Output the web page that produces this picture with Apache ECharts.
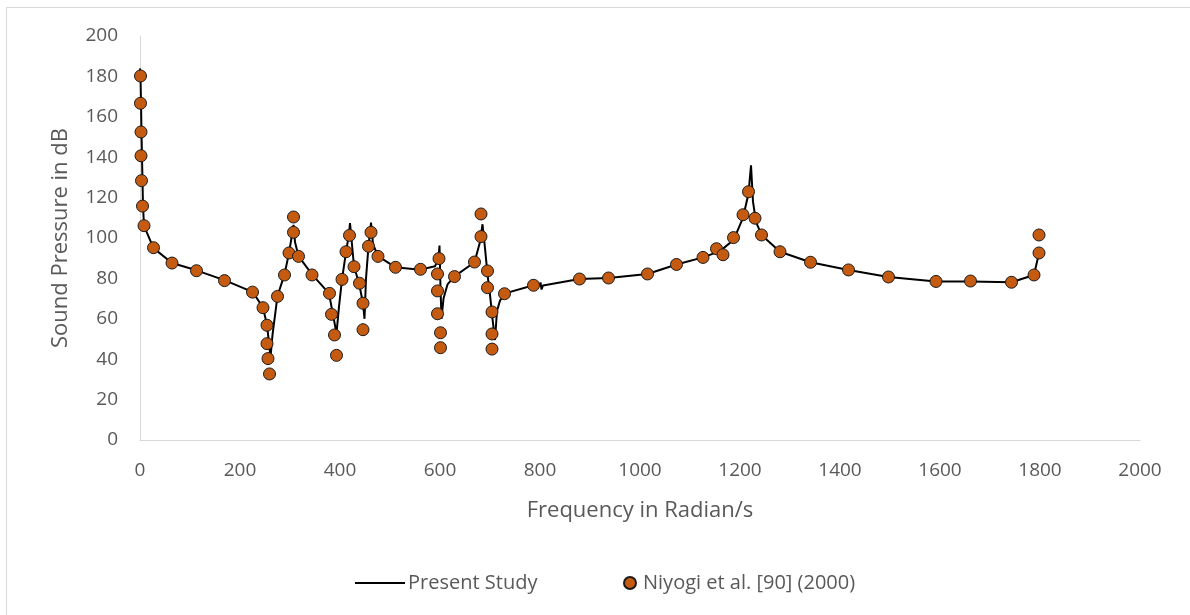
<!DOCTYPE html>
<html>
<head>
<meta charset="utf-8">
<script src="https://cdn.jsdelivr.net/npm/echarts@6/dist/echarts.min.js"></script>
<style>
  html, body { margin: 0; padding: 0; background: #fff; }
  #frame { position: absolute; left: 6px; top: 7px; width: 1200px; height: 620px; border: 1px solid #d9d9d9; box-sizing: border-box; }
  #chart { position: absolute; left: 0; top: 0; width: 1190px; height: 615px; }
</style>
</head>
<body>
<div id="frame"></div>
<div id="chart"></div>
<script>
// Present Study: computed sound pressure curve (frequency rad/s, dB)
const studyFreq = [0, 1, 2, 3, 4, 5, 6, 8, 27, 64, 113, 170, 226, 246, 254, 258, 261,
  265, 275, 289, 298, 303, 307, 310, 317, 344, 378, 386, 393,
  398, 404, 412, 418, 420, 428, 438, 446, 449,
  452, 457, 462, 466, 476, 511, 560, 590, 597, 599, 601, 603,
  607, 615, 629, 669, 680, 685, 690, 695, 700, 705, 710,
  714, 720, 730, 787, 800, 801, 803, 806, 879, 937, 1015, 1073, 1126, 1160, 1187, 1206, 1217, 1222,
  1226, 1232, 1243, 1280, 1341, 1417, 1497, 1592, 1661, 1743, 1788, 1798];
const studySpl = [184, 180, 167, 152, 140, 128, 116, 106, 95, 87.6, 84, 79, 73.2, 65.5, 57, 48, 41,
  52, 71.3, 82, 92.6, 100, 106.5, 98, 91, 82, 72.6, 62, 52.8,
  66, 79.5, 93, 102, 107.4, 86, 77.6, 67.7, 60,
  80, 96, 107.6, 97, 91, 85.5, 84.3, 86, 90, 96.3, 75, 60,
  70, 77, 81, 88, 98, 106.8, 95, 82, 72, 60, 49.5,
  64, 69, 72.6, 76.6, 77, 78, 74.5, 76.5, 79.7, 80.2, 82.2, 86.9, 90.4, 93.5, 99, 110, 122, 136,
  118, 108, 101.5, 93.2, 88, 84.2, 80.7, 78.5, 78.5, 78.1, 81.7, 92.6];

// Niyogi et al. [90] (2000): reference data points
const niyogiFreq = [1, 1, 2, 2, 3, 5, 8, 27, 64, 113, 169, 225, 246, 254, 254, 256, 259,
  275, 289, 298, 307, 307, 317, 344, 379, 383, 389, 393,
  404, 412, 419, 428, 439, 446, 446, 457, 462, 476, 511, 561,
  598, 595, 595, 595, 601, 601, 629, 669, 682, 682, 695, 695, 704, 704, 704,
  729, 787, 879, 937, 1015, 1073, 1126, 1153, 1166, 1187, 1206, 1217, 1230, 1243,
  1280, 1341, 1417, 1497, 1592, 1661, 1743, 1788, 1798, 1798];
const niyogiSpl = [180.2, 166.7, 152.5, 140.7, 128.4, 115.8, 106.1, 95.2, 87.6, 83.8, 78.9, 73.2, 65.5, 56.8, 47.7, 40.3, 32.7,
  71.1, 81.7, 92.6, 110.4, 102.8, 90.9, 81.7, 72.6, 62.2, 52, 41.9,
  79.5, 93.2, 101.3, 85.8, 77.6, 67.7, 54.6, 95.9, 102.8, 90.9, 85.5, 84.5,
  89.8, 82.2, 73.8, 62.5, 53.1, 45.7, 80.9, 88.1, 111.9, 100.7, 83.7, 75.4, 63.4, 52.5, 45,
  72.4, 76.6, 79.7, 80.2, 82.2, 86.9, 90.4, 94.7, 91.7, 100.2, 111.5, 122.9, 109.8, 101.5,
  93.2, 88, 84.2, 80.7, 78.5, 78.7, 78.1, 81.7, 92.6, 101.5];

const studyData = studyFreq.map((f, i) => [f, studySpl[i]]);
const niyogiData = niyogiFreq.map((f, i) => [f, niyogiSpl[i]]);

const FONT = "'Open Sans', 'Noto Sans', sans-serif";
const TEXT = '#595959';
const plain = v => String(v);

const chart = echarts.init(document.getElementById('chart'), null, { renderer: 'canvas' });
chart.setOption({
  animation: false,
  backgroundColor: 'transparent',
  grid: { left: 140, right: 50, top: 36, bottom: 175 },
  legend: [
    {
      data: [{ name: 'Present Study', icon: 'rect' }],
      left: 350, top: 568,
      itemWidth: 50, itemHeight: 2, itemGap: 10,
      textStyle: { color: TEXT, fontSize: 20, fontFamily: FONT, padding: [0, 0, 0, -2] }
    },
    {
      data: [{ name: 'Niyogi et al. [90] (2000)', icon: 'circle' }],
      left: 618, top: 568,
      itemWidth: 12, itemHeight: 12,
      textStyle: { color: TEXT, fontSize: 20, fontFamily: FONT, padding: [0, 0, 0, 2] }
    }
  ],
  xAxis: {
    type: 'value', min: 0, max: 2000, interval: 200,
    name: 'Frequency in Radian/s', nameLocation: 'middle', nameGap: 60,
    nameTextStyle: { color: TEXT, fontSize: 22, fontFamily: FONT },
    axisLine: { show: true, lineStyle: { color: '#d9d9d9', width: 1 } },
    axisTick: { show: false },
    splitLine: { show: false },
    axisLabel: { color: TEXT, fontSize: 19, fontFamily: FONT, margin: 21, formatter: plain }
  },
  yAxis: {
    type: 'value', min: 0, max: 200, interval: 20,
    name: 'Sound Pressure in dB', nameLocation: 'middle', nameGap: 68,
    nameTextStyle: { color: TEXT, fontSize: 22, fontFamily: FONT },
    axisLine: { show: true, lineStyle: { color: '#d9d9d9', width: 1 } },
    axisTick: { show: false },
    splitLine: { show: false },
    axisLabel: { color: TEXT, fontSize: 19, fontFamily: FONT, margin: 22, formatter: plain }
  },
  series: [
    {
      name: 'Present Study',
      type: 'line',
      data: studyData,
      symbol: 'none',
      lineStyle: { color: '#000000', width: 2 },
      itemStyle: { color: '#000000' },
      z: 2
    },
    {
      name: 'Niyogi et al. [90] (2000)',
      type: 'scatter',
      data: niyogiData,
      symbol: 'circle',
      symbolSize: 12,
      itemStyle: { color: '#C55A11', borderColor: '#1a1a1a', borderWidth: 1, opacity: 1 },
      z: 3
    }
  ]
});
</script>
</body>
</html>
